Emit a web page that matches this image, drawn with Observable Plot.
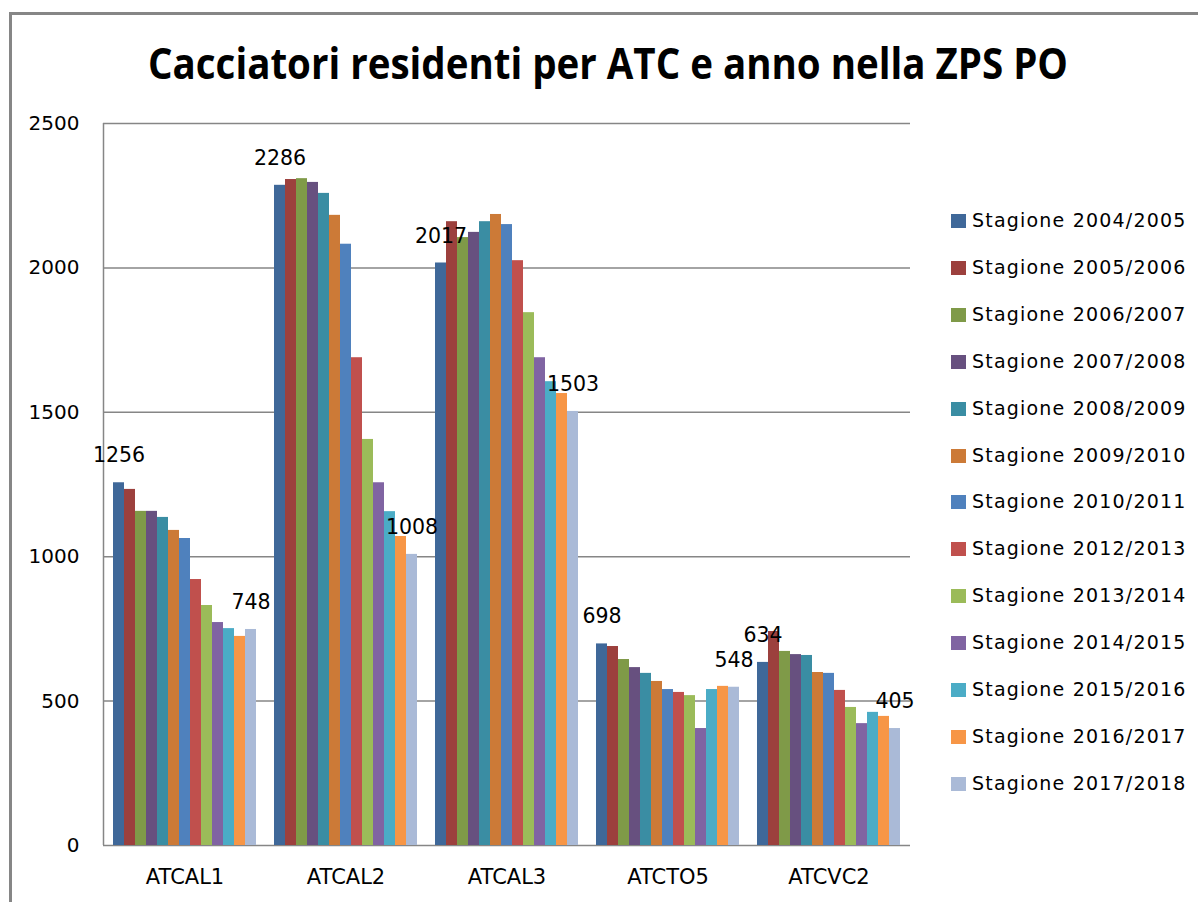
<!DOCTYPE html>
<html>
<head>
<meta charset="utf-8">
<script src="https://cdn.jsdelivr.net/npm/d3@7"></script>
<script src="https://cdn.jsdelivr.net/npm/@observablehq/plot@0.6"></script>
<style>
  html, body { margin: 0; padding: 0; background: #fff; }
  #wrap { position: relative; width: 1198px; height: 902px; background: #fff; overflow: hidden; font-family: "DejaVu Sans", sans-serif; }
  #border { position: absolute; left: 9px; top: 12px; width: 1300px; height: 1000px; border-top: 3px solid #868686; border-left: 3px solid #868686; }
  #title { position: absolute; left: 0; top: 0; }
  #grid, #chart { position: absolute; left: 0; top: 0; }
  #legend { position: absolute; left: 951px; top: 207px; }
  .item { position: absolute; left: 0; height: 46.9px; white-space: nowrap; font-size: 19px; letter-spacing: 1.2px; color: #000; }
  .sw { position: absolute; left: 0; width: 15px; height: 14px; }
  .lab { position: absolute; left: 21px; top: 0; line-height: 20px; }
</style>
</head>
<body>
<div id="wrap">
  <div id="border"></div>
  <svg id="title" width="1198" height="110">
    <text x="608" y="79" text-anchor="middle" font-family="Open Sans, DejaVu Sans, sans-serif" font-weight="bold" font-size="43" textLength="920" lengthAdjust="spacingAndGlyphs" fill="#000">Cacciatori residenti per ATC e anno nella ZPS PO</text>
  </svg>
  <div id="grid"></div>
  <div id="chart"></div>
  <div id="legend"></div>
</div>
<script>
// ---- Data ----
const atcs = ["ATCAL1", "ATCAL2", "ATCAL3", "ATCTO5", "ATCVC2"];
const seasons = [
  "Stagione 2004/2005", "Stagione 2005/2006", "Stagione 2006/2007", "Stagione 2007/2008",
  "Stagione 2008/2009", "Stagione 2009/2010", "Stagione 2010/2011", "Stagione 2012/2013",
  "Stagione 2013/2014", "Stagione 2014/2015", "Stagione 2015/2016", "Stagione 2016/2017",
  "Stagione 2017/2018"
];
const atcal1 = [1256, 1233, 1157, 1157, 1136, 1091, 1063, 921, 831, 772, 751, 724, 748];
const atcal2 = [2286, 2306, 2309, 2296, 2258, 2182, 2082, 1689, 1406, 1256, 1156, 1070, 1008];
const atcal3 = [2017, 2160, 2105, 2123, 2160, 2185, 2150, 2025, 1845, 1689, 1606, 1565, 1503];
const atcto5 = [698, 689, 644, 616, 596, 568, 540, 530, 519, 405, 540, 551, 548];
const atcvc2 = [634, 741, 672, 661, 658, 599, 596, 537, 478, 422, 461, 447, 405];
const yTicks = [0, 500, 1000, 1500, 2000, 2500];
const colors = ["#3F6899", "#9C403D", "#7F9A48", "#67507F", "#3A8DA3", "#CC7A37", "#4F81BD",
                "#C0504D", "#9BBB59", "#8064A2", "#4BACC6", "#F79646", "#AABAD7"];

const valuesByAtc = [atcal1, atcal2, atcal3, atcto5, atcvc2];
const table = [];
atcs.forEach((atc, i) => seasons.forEach((s, j) => table.push({atc, season: s, value: valuesByAtc[i][j]})));
const labelRows = table.filter(d => d.season === seasons[0] || d.season === seasons[seasons.length - 1]);

const grey = "#868686";
const dims = {width: 1198, height: 902, marginLeft: 103, marginRight: 288, marginTop: 123, marginBottom: 57};
const style = {background: "transparent", fontFamily: "DejaVu Sans, sans-serif", fontSize: "20px", color: "#000"};

// Background layer: y axis, gridlines, axis lines
const grid = Plot.plot({
  ...dims,
  style,
  x: {domain: [0, 1], axis: null},
  y: {domain: [0, 2500], ticks: yTicks, tickFormat: "d", tickSize: 0, tickPadding: 24, label: null},
  marks: [
    Plot.ruleY(yTicks, {stroke: grey, strokeWidth: 1.5}),
    Plot.ruleX([0], {y1: 0, y2: 2500, stroke: grey, strokeWidth: 1.5})
  ]
});
document.getElementById("grid").appendChild(grid);

// Foreground layer: grouped bars faceted by ATC
const chart = Plot.plot({
  ...dims,
  style: {...style, fontSize: "21px"},
  fx: {domain: atcs, paddingInner: 0.1, paddingOuter: 0.05, label: null, tickSize: 0, tickPadding: 24},
  x: {domain: seasons, padding: 0, axis: null},
  y: {domain: [0, 2500], axis: null},
  color: {domain: seasons, range: colors},
  marks: [
    Plot.barY(table, {fx: "atc", x: "season", y: "value", fill: "season", inset: 0}),
    Plot.text(labelRows, {fx: "atc", x: "season", y: "value", text: d => String(d.value), dy: -27, fontSize: 20.5, fill: "#000"})
  ]
});
document.getElementById("chart").appendChild(chart);

// ---- Legend ----
const legend = document.getElementById("legend");
seasons.forEach((s, i) => {
  const item = document.createElement("div");
  item.className = "item";
  item.style.top = (i * 46.9) + "px";
  const sw = document.createElement("div");
  sw.className = "sw";
  sw.style.top = "7px";
  sw.style.background = colors[i];
  const lab = document.createElement("div");
  lab.className = "lab";
  lab.style.top = "3px";
  lab.textContent = s;
  item.appendChild(sw);
  item.appendChild(lab);
  legend.appendChild(item);
});
</script>
</body>
</html>
